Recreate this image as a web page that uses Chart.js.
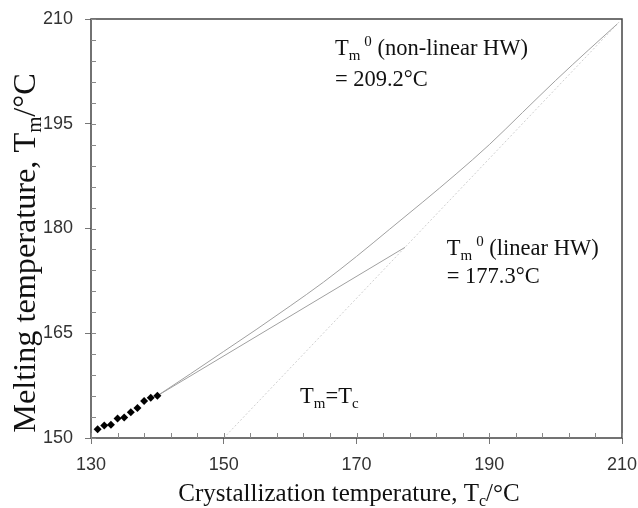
<!DOCTYPE html>
<html>
<head>
<meta charset="utf-8">
<script src="https://cdn.jsdelivr.net/npm/chart.js@4/dist/chart.umd.min.js"></script>
<style>
html,body{margin:0;padding:0;background:#fff;}
#wrap{width:638px;height:508px;}
</style>
</head>
<body>
<div id="wrap"><canvas id="c" width="638" height="508"></canvas></div>
<script>
// ---- data ----
const meltTc = [131, 132, 133, 134, 135, 136, 137, 138, 139, 140];
const meltTm = [151.25, 151.8, 151.9, 152.8, 152.95, 153.7, 154.3, 155.3, 155.75, 156.05];

const nonLinTc = [140, 145, 150, 155, 160, 165, 170, 175, 180, 185, 190, 195, 200, 205, 209.3];
const nonLinTm = [156.05, 159.2, 162.4, 165.6, 168.9, 172.3, 176.0, 179.9, 183.8, 187.8, 192.0, 196.6, 201.2, 205.6, 209.3];

const linTc = [140, 177.3];
const linTm = [156.05, 177.3];

const diagTc = [150, 209.6];
const diagTm = [150, 209.6];

const xTicks = [130, 150, 170, 190, 210];
const yTicks = [150, 165, 180, 195, 210];

// ---- helpers ----
const pts = (xs, ys) => xs.map((x, i) => ({x: x, y: ys[i]}));
const SERIF = '"Liberation Serif", "Times New Roman", serif';
const SANS = '"Liberation Sans", Arial, sans-serif';

function drawRich(ctx, x, y, parts, rotate, stretch) {
  ctx.save();
  ctx.translate(x, y);
  if (rotate) ctx.rotate(-Math.PI / 2);
  if (stretch) ctx.scale(stretch, 1);
  let total = 0;
  parts.forEach(p => { ctx.font = p.size + 'px ' + SERIF; total += ctx.measureText(p.t).width + (p.gap || 0); });
  let cx = 0;
  if (rotate || parts.center) cx = -total / 2;
  ctx.fillStyle = '#111';
  ctx.textBaseline = 'alphabetic';
  ctx.textAlign = 'left';
  parts.forEach(p => {
    ctx.font = p.size + 'px ' + SERIF;
    cx += (p.gap || 0);
    ctx.fillText(p.t, cx, p.dy || 0);
    cx += ctx.measureText(p.t).width;
  });
  ctx.restore();
}

const decorPlugin = {
  id: 'decor',
  afterDraw(chart) {
    const ctx = chart.ctx;
    const a = chart.chartArea;
    const xs = chart.scales.x, ys = chart.scales.y;
    ctx.save();
    // frame
    ctx.strokeStyle = '#444';
    ctx.lineWidth = 1.5;
    ctx.strokeRect(a.left, a.top, a.right - a.left, a.bottom - a.top);
    // minor ticks
    ctx.strokeStyle = '#888';
    ctx.lineWidth = 1;
    ctx.beginPath();
    for (let v = 130; v <= 210; v += 4) {
      const px = Math.round(xs.getPixelForValue(v)) + 0.5;
      ctx.moveTo(px, a.bottom);
      ctx.lineTo(px, a.bottom - 5);
    }
    for (let v = 150; v <= 210; v += 3) {
      const py = Math.round(ys.getPixelForValue(v)) + 0.5;
      ctx.moveTo(a.left, py);
      ctx.lineTo(a.left + 5, py);
    }
    ctx.stroke();
    ctx.restore();

    // annotations (positions in data units)
    const big = 22.5, small = 15;
    drawRich(ctx, xs.getPixelForValue(166.75), ys.getPixelForValue(204.8), [
      {t: 'T', size: big}, {t: 'm', size: small, dy: 5}, {t: '0', size: small, dy: -9, gap: 4}, {t: ' (non-linear HW)', size: big}
    ]);
    drawRich(ctx, xs.getPixelForValue(166.75), ys.getPixelForValue(200.4), [
      {t: '= 209.2\u00B0C', size: big}
    ]);
    drawRich(ctx, xs.getPixelForValue(183.6), ys.getPixelForValue(176.2), [
      {t: 'T', size: big}, {t: 'm', size: small, dy: 5}, {t: '0', size: small, dy: -9, gap: 4}, {t: ' (linear HW)', size: big}
    ]);
    drawRich(ctx, xs.getPixelForValue(183.6), ys.getPixelForValue(172.2), [
      {t: '= 177.3\u00B0C', size: big}
    ]);
    drawRich(ctx, xs.getPixelForValue(161.5), ys.getPixelForValue(154.95), [
      {t: 'T', size: big}, {t: 'm', size: small, dy: 5}, {t: '=T', size: big}, {t: 'c', size: small, dy: 5}
    ]);

    // axis titles
    const xp = [{t: 'Crystallization temperature, T', size: 25}, {t: 'c', size: 16, dy: 5}, {t: '/\u00B0C', size: 25}];
    xp.center = true;
    drawRich(ctx, 349, 501, xp);
    drawRich(ctx, 35, 253, [{t: 'Melting temperature, T', size: 31}, {t: 'm', size: 20, dy: 6}, {t: '/\u00B0C', size: 31}], true, 1.04);
  }
};

const noOverflow = s => { s.paddingLeft = 0; s.paddingRight = 0; s.paddingTop = 0; s.paddingBottom = 0; };

new Chart(document.getElementById('c'), {
  type: 'scatter',
  data: {
    datasets: [
      {
        label: 'Tm',
        data: pts(meltTc, meltTm),
        pointStyle: 'rectRot',
        pointRadius: 4,
        backgroundColor: '#000',
        borderColor: '#000',
        borderWidth: 0,
        order: 0
      },
      {
        label: 'non-linear HW',
        data: pts(nonLinTc, nonLinTm),
        showLine: true,
        borderColor: '#a0a0a0',
        borderWidth: 1,
        pointRadius: 0,
        cubicInterpolationMode: 'monotone',
        order: 1
      },
      {
        label: 'linear HW',
        data: pts(linTc, linTm),
        showLine: true,
        borderColor: '#a0a0a0',
        borderWidth: 1,
        pointRadius: 0,
        order: 2
      },
      {
        label: 'Tm=Tc',
        data: pts(diagTc, diagTm),
        showLine: true,
        borderColor: '#cfcfcf',
        borderWidth: 1,
        borderDash: [2, 2],
        pointRadius: 0,
        order: 3
      }
    ]
  },
  options: {
    responsive: false,
    animation: false,
    devicePixelRatio: 1,
    layout: {padding: {top: 19, right: 16, left: 0, bottom: 0}},
    plugins: {legend: {display: false}, tooltip: {enabled: false}},
    scales: {
      x: {
        type: 'linear',
        min: 130, max: 210,
        afterBuildTicks: s => { s.ticks = xTicks.map(v => ({value: v})); },
        afterFit: s => { s.height = 70; noOverflow(s); },
        grid: {drawOnChartArea: false, drawTicks: true, tickLength: 6, color: '#777'},
        border: {display: false},
        ticks: {color: '#333', font: {family: SANS, size: 18}, padding: 10, maxRotation: 0}
      },
      y: {
        type: 'linear',
        min: 150, max: 210,
        afterBuildTicks: s => { s.ticks = yTicks.map(v => ({value: v})); },
        afterFit: s => { s.width = 91; noOverflow(s); },
        grid: {drawOnChartArea: false, drawTicks: true, tickLength: 6, color: '#777'},
        border: {display: false},
        ticks: {color: '#333', font: {family: SANS, size: 18}, padding: 12}
      }
    }
  },
  plugins: [decorPlugin]
});
</script>
</body>
</html>
